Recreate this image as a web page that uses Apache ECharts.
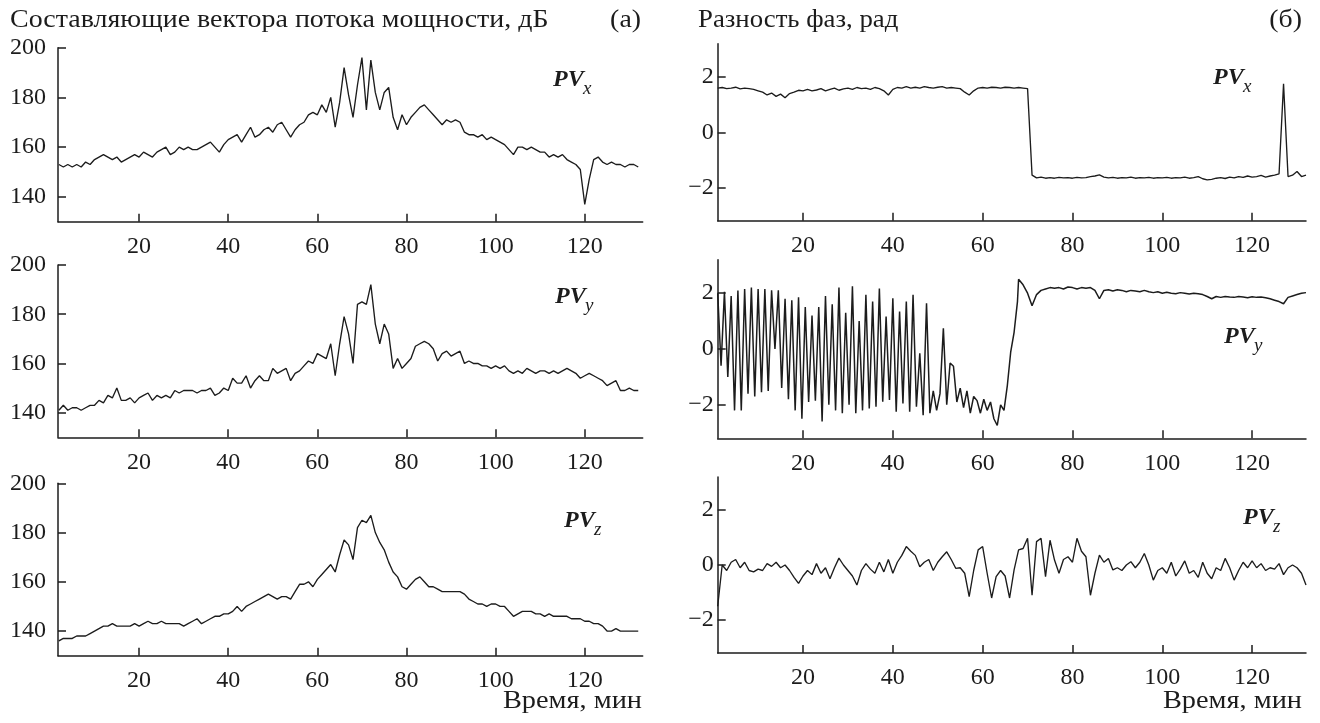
<!DOCTYPE html>
<html>
<head>
<meta charset="utf-8">
<script src="https://cdn.jsdelivr.net/npm/echarts@6/dist/echarts.min.js"></script>
<style>
html,body{margin:0;padding:0;background:#fff;}
#chart{width:1320px;height:723px;}
</style>
</head>
<body>
<div id="chart"></div>
<script>
// ---------- tick labels ----------
const xTicks = [20, 40, 60, 80, 100, 120];
const powerTicks = [140, 160, 180, 200];
const phaseTicks = [-2, 0, 2];

// ---------- sampling grids (minutes) ----------
const minutesLeft = Array.from({length: 131}, (_, i) => 2 + i);   // 2..132
const minutesRight = Array.from({length: 132}, (_, i) => 1 + i);  // 1..132
const minutesPhaseYEarly = Array.from({length: 90}, (_, i) => 1 + 0.75 * i); // 1..67.75
const minutesPhaseYLate = Array.from({length: 65}, (_, i) => 68 + i);       // 68..132

// ---------- (а) power-flux components, dB ----------
const powerX = [
  153,152,153,152,153,152,154,153,155,156,
  157,156,155,156,154,155,156,157,156,158,
  157,156,158,159,160,157,158,160,159,160,
  159,159,160,161,162,160,158,161,163,164,
  165,162,165,168,164,165,167,168,166,169,
  170,167,164,167,169,170,173,174,173,177,
  174,180,168,178,192,181,172,185,196,175,
  195,182,175,182,184,172,167,173,169,172,
  174,176,177,175,173,171,169,171,170,171,
  170,166,165,165,164,165,163,164,163,162,
  161,159,157,160,160,159,160,159,158,158,
  156,157,156,157,155,154,153,151,137,147,
  155,156,154,153,154,153,153,152,153,153,
  152
];
const powerY = [
  141,143,141,142,142,141,142,143,143,145,
  144,147,146,150,145,145,146,144,146,147,
  148,145,147,146,147,146,149,148,149,149,
  149,148,149,149,150,147,148,150,149,154,
  152,152,155,150,153,155,153,153,158,156,
  157,158,153,156,157,159,161,160,164,163,
  162,168,155,168,179,172,160,184,185,184,
  192,176,168,176,172,158,162,158,160,162,
  167,168,169,168,166,161,164,165,163,164,
  165,160,161,160,160,159,159,158,159,158,
  159,157,156,157,156,158,157,156,157,157,
  156,157,156,157,158,157,156,154,155,156,
  155,154,153,151,152,153,149,149,150,149,
  149
];
const powerZ = [
  136,137,137,137,138,138,138,139,140,141,
  142,142,143,142,142,142,142,143,142,143,
  144,143,143,144,143,143,143,143,142,143,
  144,145,143,144,145,146,146,147,147,148,
  150,148,150,151,152,153,154,155,154,153,
  154,154,153,156,159,159,160,158,161,163,
  165,167,164,171,177,175,169,182,185,184,
  187,180,176,173,168,164,162,158,157,159,
  161,162,160,158,158,157,156,156,156,156,
  156,155,153,152,151,151,150,151,151,150,
  150,148,146,147,148,148,148,147,147,146,
  147,146,146,146,146,145,145,145,144,144,
  143,143,142,140,140,141,140,140,140,140,
  140
];

// ---------- (б) phase difference, rad ----------
const phaseX = [
  1.6,1.62,1.58,1.6,1.63,1.57,1.6,1.58,1.55,1.5,
  1.45,1.35,1.42,1.3,1.38,1.25,1.4,1.45,1.52,1.5,
  1.55,1.5,1.53,1.58,1.5,1.55,1.6,1.52,1.57,1.6,
  1.55,1.62,1.58,1.6,1.55,1.62,1.58,1.5,1.35,1.55,
  1.62,1.6,1.65,1.6,1.63,1.6,1.65,1.62,1.6,1.63,
  1.65,1.6,1.62,1.6,1.58,1.45,1.35,1.5,1.6,1.62,
  1.6,1.63,1.62,1.6,1.63,1.62,1.6,1.62,1.6,1.58,
  -1.55,-1.65,-1.62,-1.66,-1.64,-1.66,-1.63,-1.65,-1.64,-1.66,
  -1.63,-1.65,-1.64,-1.6,-1.58,-1.54,-1.62,-1.65,-1.63,-1.66,
  -1.64,-1.65,-1.62,-1.66,-1.64,-1.65,-1.63,-1.66,-1.64,-1.65,
  -1.63,-1.66,-1.64,-1.65,-1.62,-1.66,-1.64,-1.6,-1.68,-1.72,
  -1.7,-1.66,-1.64,-1.67,-1.62,-1.65,-1.6,-1.63,-1.58,-1.62,
  -1.6,-1.56,-1.62,-1.58,-1.55,-1.5,1.75,-1.6,-1.55,-1.42,
  -1.6,-1.55
];
const phaseYEarly = [
  2.0,-0.6,2.05,-1.0,1.9,-2.2,2.1,-2.2,2.15,-1.6,
  2.2,-1.7,2.15,-1.55,2.15,-1.5,2.1,0.0,2.1,-1.4,
  1.8,-1.8,1.75,-2.2,1.85,-2.5,1.5,-1.9,1.2,-1.85,
  1.5,-2.6,1.9,-2.0,1.6,-2.2,2.2,-2.3,1.3,-2.0,
  2.25,-2.3,1.0,-2.2,1.94,-2.13,1.7,-2.07,2.17,-1.89,
  1.16,-1.83,1.82,-2.25,1.34,-1.95,1.7,-2.25,1.94,-2.07,
  -0.15,-2.37,1.64,-2.3,-1.5,-2.2,-1.6,0.74,-2.0,-0.5,
  -0.62,-1.9,-1.4,-2.1,-1.5,-2.3,-1.7,-1.85,-2.3,-1.8,
  -2.2,-1.9,-2.5,-2.74,-2.0,-2.2,-1.3,-0.1,0.6,1.7
];
const phaseYLate = [
  2.5,2.3,2.0,1.55,1.95,2.1,2.15,2.2,2.18,2.2,
  2.15,2.22,2.2,2.15,2.2,2.18,2.2,2.1,1.8,2.1,
  2.12,2.08,2.12,2.1,2.05,2.1,2.08,2.05,2.1,2.05,
  2.02,2.05,2.0,2.03,2.0,1.98,2.02,2.0,1.97,2.0,
  1.98,1.95,1.88,1.8,1.88,1.85,1.88,1.86,1.85,1.88,
  1.86,1.84,1.87,1.85,1.86,1.84,1.8,1.75,1.7,1.62,
  1.85,1.9,1.95,2.0,2.02
];
const phaseZ = [
  -1.5,0.0,-0.2,0.1,0.2,-0.1,0.1,-0.2,-0.25,-0.15,
  -0.2,0.05,-0.05,0.1,-0.1,0.0,-0.2,-0.45,-0.67,-0.4,
  -0.2,-0.35,0.05,-0.3,-0.1,-0.5,-0.1,0.25,0.0,-0.2,
  -0.4,-0.73,-0.2,0.05,-0.15,-0.3,0.1,-0.25,0.2,-0.3,
  0.1,0.35,0.67,0.5,0.35,-0.06,0.1,0.2,-0.2,0.1,
  0.3,0.48,0.2,-0.12,-0.1,-0.3,-1.15,-0.2,0.55,0.67,
  -0.3,-1.2,-0.42,-0.2,-0.4,-1.2,-0.18,0.55,0.6,0.97,
  -1.1,0.85,0.97,-0.42,0.9,0.18,-0.3,0.2,0.3,0.1,
  0.97,0.5,0.3,-1.1,-0.3,0.36,0.1,0.24,-0.18,-0.1,
  -0.2,0.0,0.12,-0.1,0.1,0.42,0.0,-0.55,-0.2,-0.1,
  -0.3,0.1,-0.4,-0.15,0.15,-0.3,-0.2,-0.45,0.1,-0.3,
  -0.5,-0.1,-0.2,0.24,-0.1,-0.55,-0.2,0.1,-0.1,0.15,
  -0.1,0.05,-0.2,-0.1,-0.15,0.05,-0.35,-0.1,0.0,-0.1,
  -0.3,-0.73
];

// ---------- helpers ----------
const zip = (t, v) => t.map((x, i) => [x, v[i]]);
const FONT = "'Liberation Serif', 'DejaVu Serif', serif";
const INK = '#1c1c1c';
const minusFmt = v => String(v).replace('-', '\u2212');

const grids = [
  {left: 58,    top: 47.7,  width: 584.7, height: 174},
  {left: 58,    top: 265,   width: 584.7, height: 172.3},
  {left: 58,    top: 483.3, width: 584.7, height: 172.4},
  {left: 717.7, top: 43.8,  width: 588.3, height: 177},
  {left: 717.7, top: 259.7, width: 588.3, height: 178.6},
  {left: 717.7, top: 477,   width: 588.3, height: 176}
];

function xAxisFor(i) {
  const left = i < 3;
  return {
    type: 'value', gridIndex: i,
    min: left ? 1.8 : 1, max: left ? 133 : 132,
    axisLine: {show: true, onZero: false, lineStyle: {color: INK, width: 1.5}},
    axisTick: {show: true, inside: true, length: 8, customValues: xTicks, lineStyle: {color: INK, width: 1.5}},
    axisLabel: {show: true, customValues: xTicks, fontSize: 24, fontFamily: FONT, color: INK, margin: 13},
    splitLine: {show: false}
  };
}
function yAxisFor(i) {
  const left = i < 3;
  const ticks = left ? powerTicks : phaseTicks;
  return {
    type: 'value', gridIndex: i,
    min: left ? 130 : -3.2, max: left ? 200 : 3.2,
    axisLine: {show: true, onZero: false, lineStyle: {color: INK, width: 1.5}},
    axisTick: {show: true, inside: true, length: 8, customValues: ticks, lineStyle: {color: INK, width: 1.5}},
    axisLabel: {show: true, customValues: ticks, fontSize: 24, fontFamily: FONT, color: INK,
                margin: left ? 12 : 4, formatter: minusFmt},
    splitLine: {show: false}
  };
}

const seriesData = [
  zip(minutesLeft, powerX),
  zip(minutesLeft, powerY),
  zip(minutesLeft, powerZ),
  zip(minutesRight, phaseX),
  zip(minutesPhaseYEarly, phaseYEarly).concat(zip(minutesPhaseYLate, phaseYLate)),
  zip(minutesRight, phaseZ)
];

function pvLabel(sub, x, y) {
  return [
    {type: 'text', x: x, y: y, style: {text: 'PV', font: 'italic bold 24px ' + FONT, fill: INK,
      textAlign: 'left', textVerticalAlign: 'middle'}},
    {type: 'text', x: x + 30, y: y + 9, style: {text: sub, font: 'italic 19px ' + FONT, fill: INK,
      textAlign: 'left', textVerticalAlign: 'middle'}}
  ];
}
function plain(text, x, y, size, align, sx) {
  return {type: 'text', x: x, y: y, scaleX: sx || 1,
    style: {text: text, font: size + 'px ' + FONT, fill: INK,
    textAlign: align, textVerticalAlign: 'middle'}};
}

const graphics = [
  plain('Составляющие вектора потока мощности, дБ', 10, 20, 26, 'left', 1.075),
  plain('(а)', 641, 20, 26, 'right', 1.07),
  plain('Разность фаз, рад', 698, 20, 26, 'left', 1.03),
  plain('(б)', 1302, 20, 26, 'right', 1.07),
  plain('Время, мин', 642, 701, 26, 'right', 1.09),
  plain('Время, мин', 1302, 701, 26, 'right', 1.09)
].concat(
  pvLabel('x', 553, 80),
  pvLabel('y', 555, 297),
  pvLabel('z', 564, 521),
  pvLabel('x', 1213, 78),
  pvLabel('y', 1224, 337),
  pvLabel('z', 1243, 518)
);

const chart = echarts.init(document.getElementById('chart'), null, {renderer: 'canvas'});
chart.setOption({
  backgroundColor: '#ffffff',
  animation: false,
  grid: grids,
  xAxis: grids.map((g, i) => xAxisFor(i)),
  yAxis: grids.map((g, i) => yAxisFor(i)),
  series: seriesData.map((d, i) => ({
    type: 'line', xAxisIndex: i, yAxisIndex: i, data: d,
    showSymbol: false, symbol: 'none',
    lineStyle: {color: INK, width: i === 4 ? 1.5 : 1.35},
    silent: true
  })),
  graphic: graphics
});
</script>
</body>
</html>
